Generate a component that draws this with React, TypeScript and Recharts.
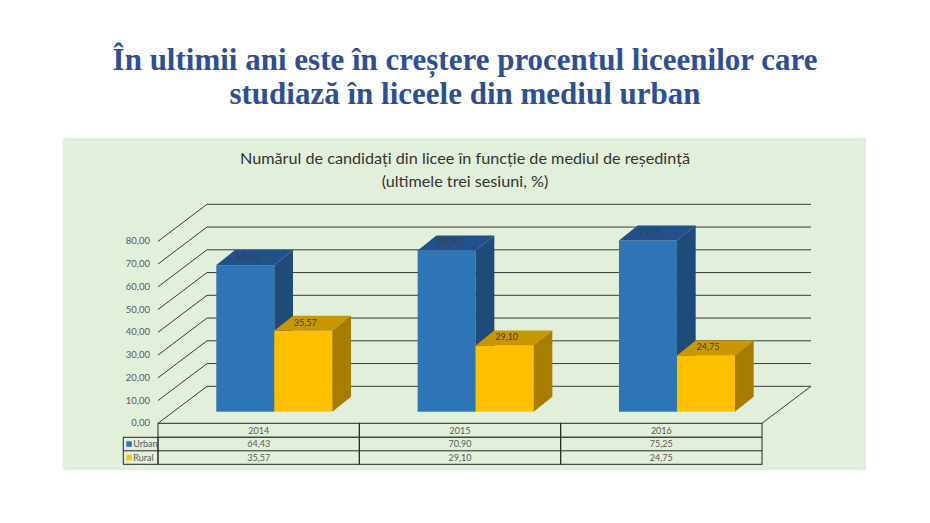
import { Bar, BarChart, CartesianGrid, XAxis, YAxis } from 'recharts'

const years = ['2014', '2015', '2016']
const urban = [64.43, 70.9, 75.25]
const rural = [35.57, 29.1, 24.75]
const yTicks = [0, 10, 20, 30, 40, 50, 60, 70, 80]

const data = years.map((year, i) => ({ year, Urban: urban[i], Rural: rural[i] }))

// plot box (the plane the bar fronts stand in)
const PLOT_LEFT = 173.3
const PLOT_RIGHT = 777.3
const PLOT_TOP = 229.7
const PLOT_BOTTOM = 411.7
const Y_AXIS_W = 60
const X_AXIS_H = 60

// fake 3D offsets
const FRONT = { dx: -15.3, dy: 11.6 }
const BACK = { dx: 33.7, dy: -25.4 }
const DEPTH = { dx: 18.7, dy: -15 }

const COLORS = {
  Urban: { front: '#2E75B6', top: '#22508A', side: '#1F4B78' },
  Rural: { front: '#FFC000', top: '#C99700', side: '#A67D00' },
}

const GRID = '#3a3a3a'
const TEXT = '#595959'
const fmt = (v: number) => v.toFixed(2).replace('.', ',')

function box(key: 'Urban' | 'Rural') {
  return (p: any) => {
    const { x, y, width: w, height: h } = p
    const c = COLORS[key]
    const { dx, dy } = DEPTH
    return (
      <g>
        <rect x={x} y={y} width={w} height={h} fill={c.front} />
        <polygon points={`${x},${y} ${x + w},${y} ${x + w + dx},${y + dy} ${x + dx},${y + dy}`} fill={c.top} />
        <polygon
          points={`${x + w},${y} ${x + w + dx},${y + dy} ${x + w + dx},${y + h + dy} ${x + w},${y + h}`}
          fill={c.side}
        />
      </g>
    )
  }
}

function valueLabel(p: any) {
  const { x, y, width, value } = p
  return (
    <text x={x + width / 2 + 2} y={y - 5} textAnchor="middle" fontSize={9} fill="#404040" fontFamily="Lato">
      {fmt(value)}
    </text>
  )
}

function gridLine(p: any) {
  const { x1, x2, y1 } = p
  const isFloor = Math.abs(y1 - PLOT_BOTTOM) < 1
  let d = `M${x1 + FRONT.dx},${y1 + FRONT.dy} L${x1 + BACK.dx},${y1 + BACK.dy} L${x2 + BACK.dx},${y1 + BACK.dy}`
  if (isFloor) d += ` L${x2 + FRONT.dx},${y1 + FRONT.dy}`
  return <path key={`g${y1}`} d={d} stroke={GRID} strokeWidth={1} fill="none" />
}

function yTick(p: any) {
  const { y, payload } = p
  return (
    <text x={PLOT_LEFT + FRONT.dx - 8} y={y + FRONT.dy + 3} textAnchor="end" fontSize={9.5} fill={TEXT} fontFamily="Lato">
      {fmt(payload.value)}
    </text>
  )
}

const TABLE_TOP = 423.3
const ROWS = [14, 13.5, 13.5]
const LEGEND_W = 34.7

function tableTick(p: any) {
  const { x, payload, index } = p
  const half = payload.offset || 100.65
  const left = x - half + FRONT.dx
  const w = half * 2
  const r1 = TABLE_TOP + ROWS[0]
  const r2 = r1 + ROWS[1]
  const r3 = r2 + ROWS[2]
  const cx = left + w / 2
  const font = { fontSize: 9, fill: TEXT, fontFamily: 'Lato', textAnchor: 'middle' as const }
  return (
    <g>
      <rect x={left} y={TABLE_TOP} width={w} height={r3 - TABLE_TOP} fill="none" stroke="#262626" />
      <line x1={left} x2={left + w} y1={r1} y2={r1} stroke="#3b4a3b" strokeWidth={1.6} />
      <line x1={left} x2={left + w} y1={r2} y2={r2} stroke="#262626" />
      <text x={cx} y={r1 - 3.5} {...font}>{payload.value}</text>
      <text x={cx} y={r2 - 3.5} {...font}>{fmt(urban[index])}</text>
      <text x={cx} y={r3 - 3.5} {...font}>{fmt(rural[index])}</text>
      {index === 0 && (
        <g>
          <rect x={left - LEGEND_W} y={r1} width={LEGEND_W} height={r3 - r1} fill="none" stroke="#262626" />
          <line x1={left - LEGEND_W} x2={left} y1={r2} y2={r2} stroke="#262626" />
          <rect x={left - LEGEND_W + 3} y={r1 + 4} width={5.5} height={5.5} fill={COLORS.Urban.front} />
          <text x={left - LEGEND_W + 10} y={r2 - 3.5} fontSize={9} fill={TEXT} fontFamily="Lato">Urban</text>
          <rect x={left - LEGEND_W + 3} y={r2 + 4} width={5.5} height={5.5} fill={COLORS.Rural.front} />
          <text x={left - LEGEND_W + 10} y={r3 - 3.5} fontSize={9} fill={TEXT} fontFamily="Lato">Rural</text>
        </g>
      )}
    </g>
  )
}

export default function App() {
  return (
    <div style={{ position: 'absolute', left: 0, top: 0, width: 930, height: 523, background: '#fff' }}>
      <div style={{ position: 'absolute', left: 63, top: 138, width: 803, height: 332, background: '#E2EFDA' }} />
      <div
        style={{
          position: 'absolute',
          left: 0,
          top: 43,
          width: 930,
          textAlign: 'center',
          fontFamily: '"Liberation Serif", serif',
          fontWeight: 'bold',
          fontSize: 31,
          lineHeight: '34px',
          color: '#2F5090',
        }}
      >
        În ultimii ani este în creștere procentul liceenilor care
        <br />
        studiază în liceele din mediul urban
      </div>
      <div
        style={{
          position: 'absolute',
          left: 0,
          top: 146,
          width: 930,
          textAlign: 'center',
          fontFamily: 'Lato',
          fontSize: 16.2,
          lineHeight: '23px',
          color: '#333',
        }}
      >
        Numărul de candidați din licee în funcție de mediul de reședință
        <br />
        (ultimele trei sesiuni, %)
      </div>
      <div style={{ position: 'absolute', left: 0, top: 0 }}>
        <BarChart
          width={930}
          height={523}
          data={data}
          barGap={0}
          barSize={58}
          margin={{
            top: PLOT_TOP,
            right: 930 - PLOT_RIGHT,
            bottom: 523 - PLOT_BOTTOM - X_AXIS_H,
            left: PLOT_LEFT - Y_AXIS_W,
          }}
        >
          <CartesianGrid vertical={false} horizontal={gridLine} />
          <XAxis dataKey="year" height={X_AXIS_H} axisLine={false} tickLine={false} tick={tableTick} interval={0} />
          <YAxis
            width={Y_AXIS_W}
            domain={[0, 80]}
            ticks={yTicks}
            axisLine={false}
            tickLine={false}
            tick={yTick}
            interval={0}
          />
          <Bar dataKey="Urban" shape={box('Urban')} label={valueLabel} isAnimationActive={false} />
          <Bar dataKey="Rural" shape={box('Rural')} label={valueLabel} isAnimationActive={false} />
        </BarChart>
      </div>
    </div>
  )
}
